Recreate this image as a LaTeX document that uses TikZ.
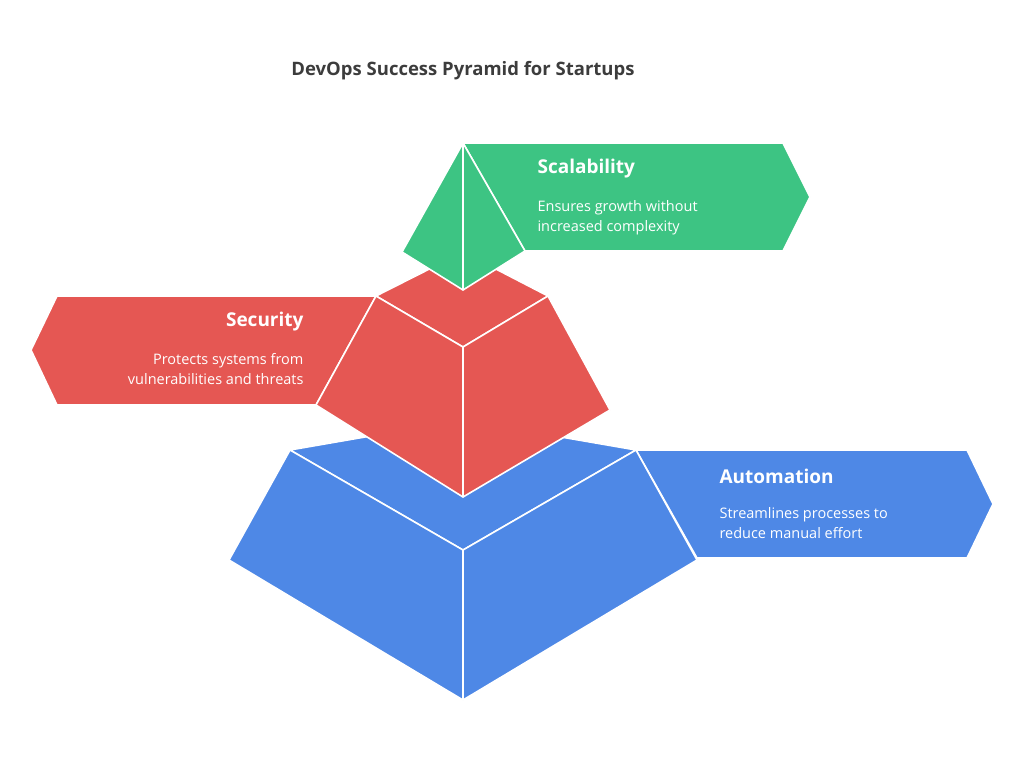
\documentclass[tikz,border=0pt]{standalone}
\usepackage{fontspec}
\setmainfont{Open Sans}
\usepackage{tikz}
\usetikzlibrary{positioning}

\definecolor{scalgreen}{HTML}{3DC483}
\definecolor{securred}{HTML}{E55753}
\definecolor{autoblue}{HTML}{4E88E6}
\definecolor{titlegray}{HTML}{3C3C3C}

\begin{document}
\begin{tikzpicture}[x=1pt,y=-1pt,
    face/.style={draw=white,line width=1.6pt,line join=round},
    head/.style={anchor=west,text=white,font=\fontsize{19}{22}\selectfont\bfseries},
    body/.style={anchor=north west,text=white,align=left,font=\fontsize{14.5}{20}\selectfont}]

\useasboundingbox (0,0) rectangle (1024,761);

  % Title
  \node[text=titlegray,font=\fontsize{18.5}{22}\selectfont\bfseries] (title) at (463,71) {DevOps Success Pyramid for Startups};

  % Automation (bottom)
  \fill[autoblue,face] (636,450) -- (967,450) -- (993,504) -- (967,558) -- (697,558) -- cycle;
  \fill[autoblue,face] (290,450) -- (463,420) -- (636,450) -- (463,550) -- cycle;
  \fill[autoblue,face] (290,450) -- (463,550) -- (463,700) -- (229,560) -- cycle;
  \fill[autoblue,face] (636,450) -- (697,560) -- (463,700) -- (463,550) -- cycle;
  \node[head] (autohead) at (716,476) {Automation};
  \node[body] (autotext) at (716,504) {Streamlines processes to\\reduce manual effort};

  % Security (middle)
  \fill[securred,face] (376,296) -- (57,296) -- (31,350) -- (57,405) -- (316,405) -- cycle;
  \fill[securred,face] (376,296) -- (463,252) -- (548,296) -- (463,347) -- cycle;
  \fill[securred,face] (376,296) -- (463,347) -- (463,497) -- (316,405) -- cycle;
  \fill[securred,face] (548,296) -- (610,410) -- (463,497) -- (463,347) -- cycle;
  \node[head,anchor=east] (securhead) at (307,322) {Security};
  \node[body,anchor=north east,align=right] (securtext) at (307,350) {Protects systems from\\vulnerabilities and threats};

  % Scalability (top)
  \fill[scalgreen,face] (463,143) -- (783,143) -- (810,197) -- (783,251) -- (525,251) -- cycle;
  \fill[scalgreen,face] (463,143) -- (402,252) -- (463,290) -- cycle;
  \fill[scalgreen,face] (463,143) -- (525,251) -- (463,290) -- cycle;
  \node[head] (scalhead) at (534,169) {Scalability};
  \node[body] (scaltext) at (534,197) {Ensures growth without\\increased complexity};

\end{tikzpicture}
\end{document}
